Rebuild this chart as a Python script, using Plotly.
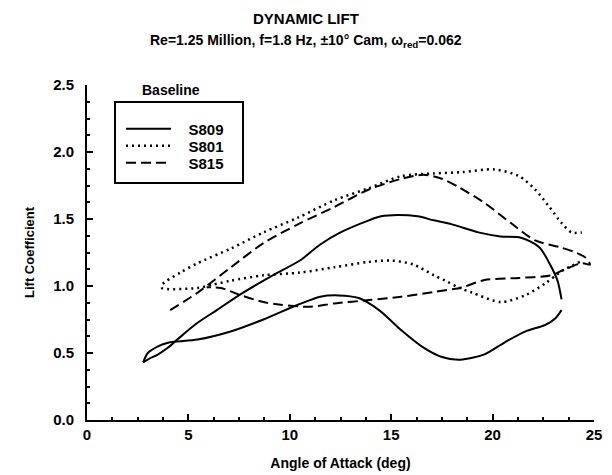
import plotly.graph_objects as go

# ---- data (angle of attack in deg, lift coefficient) ----
s809_aoa = [2.77, 3.0, 3.5, 3.95, 4.4, 5.45, 7.08, 8.7, 10.4, 11.5, 12.4, 13.4, 14.4, 15.5, 16.5, 17.5,
            18.4, 19.6, 20.6, 21.6, 22.6, 23.1, 23.4, None,
            23.4, 23.2, 22.8, 22.3, 21.4, 20.4, 19.3, 18.0, 17.1, 16.3, 15.3, 14.5, 13.9, 12.5, 11.5,
            10.5, 9.4, 7.7, 6.4, 5.4, 4.45, 3.95, 3.45, 3.1, 2.77]
s809_cl = [0.43, 0.50, 0.55, 0.575, 0.585, 0.60, 0.66, 0.75, 0.86, 0.92, 0.93, 0.91, 0.82, 0.67, 0.55, 0.47,
           0.45, 0.49, 0.58, 0.66, 0.71, 0.76, 0.82, None,
           0.90, 1.04, 1.17, 1.29, 1.36, 1.37, 1.40, 1.46, 1.49, 1.52, 1.53, 1.52, 1.49, 1.40, 1.31,
           1.19, 1.10, 0.95, 0.82, 0.72, 0.60, 0.535, 0.485, 0.46, 0.43]

s801_aoa = [24.3, 23.4, 22.6, 21.6, 20.4, 19.0, 18.3, 17.8, 17.1, 16.1, 15.0, 13.9, 12.2, 10.5, 8.7,
            7.1, 6.2, 5.45, 3.7,
            3.7, 4.6, 5.45, 7.1, 8.7, 10.4, 12.2, 13.9, 15.5, 17.1, 18.5, 20.1, 21.3, 22.1, 22.8,
            23.4, 23.9, 24.4]
s801_cl = [1.18, 1.11, 1.02, 0.93, 0.88, 0.95, 0.99, 1.03, 1.08, 1.16, 1.19, 1.18, 1.14, 1.10, 1.08,
           1.04, 1.01, 0.985, 0.985,
           1.01, 1.10, 1.17, 1.28, 1.40, 1.51, 1.64, 1.73, 1.82, 1.84, 1.85, 1.87, 1.82, 1.72, 1.59,
           1.47, 1.40, 1.40]

s815_aoa = [4.1, 5.45, 7.1, 8.7, 10.4, 12.2, 13.9, 15.5, 16.6, 17.5, 18.3, 19.6, 20.9, 22.1, 23.3,
            24.1, 24.6, 24.8, 24.4, 23.5, 22.9, 21.3, 19.6, 18.5, 17.1, 15.5, 13.9, 12.2, 11.0,
            9.55, 8.7, 7.6, 6.6, 5.9]
s815_cl = [0.82, 0.95, 1.14, 1.32, 1.46, 1.59, 1.72, 1.80, 1.83, 1.80, 1.74, 1.62, 1.47, 1.34, 1.29,
           1.25, 1.21, 1.16, 1.17, 1.12, 1.08, 1.06, 1.045, 0.99, 0.955, 0.92, 0.895, 0.87, 0.845,
           0.86, 0.88, 0.93, 0.985, 0.99]

x_ticks = [0, 5, 10, 15, 20, 25]
x_ticktext = ["0", "5", "10", "15", "20", "25"]
y_ticks = [0, 0.5, 1.0, 1.5, 2.0, 2.5]
y_ticktext = ["0.0", "0.5", "1.0", "1.5", "2.0", "2.5"]

series = [
    ("S809", s809_aoa, s809_cl, "solid", 2, "legend"),
    ("S801", s801_aoa, s801_cl, "2px,4px", 2.5, "legend2"),
    ("S815", s815_aoa, s815_cl, "10px,5px", 2, "legend3"),
]

FONT = "Liberation Sans"
BOLD = dict(family=FONT, color="black", weight="bold")

fig = go.Figure()
for name, x, y, dash, w, lg in series:
    fig.add_trace(go.Scatter(
        x=x, y=y, mode="lines", name="\u00a0\u00a0\u00a0" + name, legend=lg,
        line=dict(color="black", width=w, dash=dash, shape="spline", smoothing=0.8),
        connectgaps=False,
    ))

PX_L, PX_R, PX_T, PX_B = 87, 594, 85, 420
def px_x(p):
    return (p - PX_L) / (PX_R - PX_L)
def px_y(p):
    return (PX_B - p) / (PX_B - PX_T)

def legend_at(yc):
    return dict(x=px_x(121), y=px_y(yc), xanchor="left", yanchor="middle",
                bgcolor="rgba(0,0,0,0)", borderwidth=0,
                font=dict(size=15, **BOLD), itemwidth=45)

fig.update_layout(
    width=612, height=475,
    margin=dict(l=PX_L, r=612 - PX_R, t=PX_T, b=475 - PX_B, autoexpand=False),
    paper_bgcolor="white", plot_bgcolor="white",
    font=dict(family=FONT, color="black"),
    showlegend=True,
    legend=legend_at(129),
    legend2=legend_at(146),
    legend3=legend_at(163),
    xaxis=dict(
        range=[0, 25], tickmode="array", tickvals=x_ticks, ticktext=x_ticktext,
        ticks="inside", ticklen=6, tickwidth=2, tickcolor="black",
        minor=dict(tick0=0, dtick=1.25, ticks="inside", ticklen=3, tickwidth=1.5, tickcolor="black"),
        showline=True, linecolor="black", linewidth=2, mirror=False,
        showgrid=False, zeroline=False, automargin=False,
        tickfont=dict(size=15, **BOLD),
        title=dict(text="Angle of Attack (deg)", font=dict(size=14, **BOLD), standoff=16),
    ),
    yaxis=dict(
        range=[0, 2.5], tickmode="array", tickvals=y_ticks, ticktext=y_ticktext,
        ticks="inside", ticklen=6, tickwidth=2, tickcolor="black",
        minor=dict(tick0=0, dtick=0.125, ticks="inside", ticklen=3, tickwidth=1.5, tickcolor="black"),
        showline=True, linecolor="black", linewidth=2, mirror=False,
        showgrid=False, zeroline=False, automargin=False,
        tickfont=dict(size=15, **BOLD),
        ticklabelstandoff=8,
        title=dict(text="Lift Coefficient", font=dict(size=13, **BOLD), standoff=16),
    ),
    shapes=[dict(type="rect", xref="paper", yref="paper",
                 x0=px_x(115), x1=px_x(243), y0=px_y(183), y1=px_y(102),
                 line=dict(color="black", width=2), fillcolor="rgba(0,0,0,0)")],
    annotations=[
        dict(text="DYNAMIC LIFT", xref="paper", yref="paper", x=px_x(306), y=px_y(18),
             xanchor="center", yanchor="middle", showarrow=False, font=dict(size=15, **BOLD)),
        dict(text="Re=1.25 Million, f=1.8 Hz, \u00b110\u00b0 Cam, \u03c9<sub>red</sub>=0.062",
             xref="paper", yref="paper", x=px_x(306), y=px_y(41),
             xanchor="center", yanchor="middle", showarrow=False, font=dict(size=14, **BOLD)),
        dict(text="Baseline", xref="paper", yref="paper", x=px_x(140), y=px_y(90),
             xanchor="left", yanchor="middle", showarrow=False, font=dict(size=14, **BOLD)),
    ],
)

fig.write_html("out.html")
